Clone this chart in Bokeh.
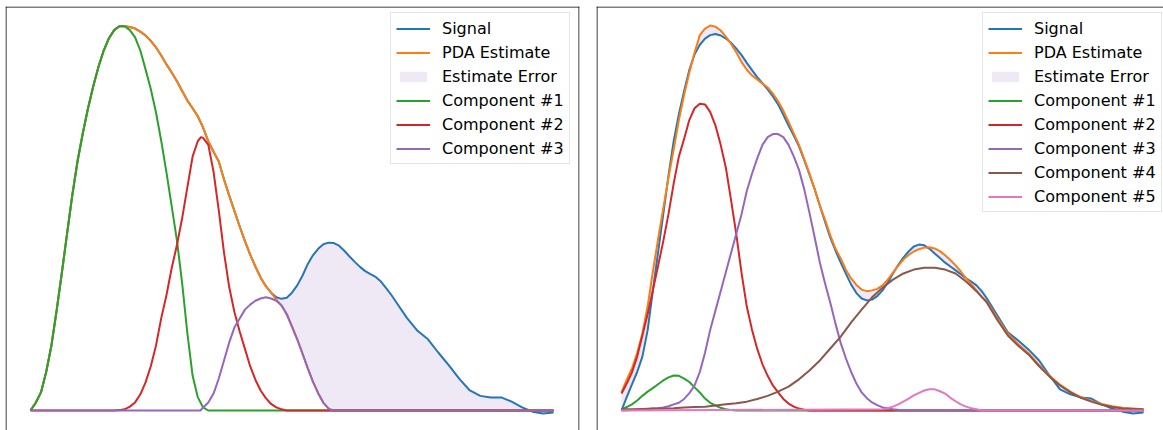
from bokeh.plotting import figure
from bokeh.models import Range1d, Legend, LegendItem, Span
from bokeh.layouts import row
from bokeh.embed import file_html
from bokeh.resources import INLINE

# sample positions (arbitrary time units)
t_fine = [0.0, 0.1, 0.2, 0.3, 0.4, 0.5, 0.6, 0.7, 0.8, 0.9, 1.0, 1.1, 1.2, 1.3, 1.4, 1.5,
          1.6, 1.7, 1.8, 1.9, 2.0, 2.1, 2.2, 2.3, 2.4, 2.5, 2.6, 2.7, 2.8, 2.9, 3.0, 3.1,
          3.2, 3.3, 3.4, 3.5, 3.6, 3.7, 3.8, 3.9, 4.0, 4.1, 4.2, 4.3, 4.4, 4.5, 4.6, 4.7,
          4.8, 4.9, 5.0, 5.1, 5.2, 5.3, 5.4, 5.5, 5.6, 5.7, 5.8, 5.9, 6.0, 6.1, 6.2, 6.3,
          6.4, 6.5, 6.6, 6.7, 6.8, 6.9, 7.0]
t_tail = [7.2, 7.4, 7.6, 7.8, 8.0, 8.2, 8.4, 8.6, 8.8, 9.0, 9.2, 9.4, 9.6, 9.8, 10.0]
t_grid = t_fine + t_tail
t_coarse = [0.0, 0.2, 0.4, 0.6, 0.8, 1.0, 1.2, 1.4, 1.6, 1.8, 2.0, 2.2, 2.4, 2.6, 2.8,
            3.0, 3.2, 3.4, 3.6, 3.8, 4.0, 4.2, 4.4, 4.6, 4.8, 5.0, 5.2, 5.4, 5.6, 5.8,
            6.0, 6.2, 6.4, 6.6, 6.8, 7.0, 7.2, 7.4, 7.6, 7.8, 8.0, 8.2, 8.4, 8.6, 8.8,
            9.0, 9.2, 9.4, 9.6, 9.8, 10.0]

# ---- left panel (3 components) ----
left_common = [0, .02, .047, .10, .169, .26, .358, .46, .56, .648, .72, .785, .842, .893,
               .935, .967, .988, .998, .998, .996, .992, .984, .974, .96, .943, .922, .899,
               .878, .855, .83, .805, .785, .764, .735, .699, .672, .647, .60, .558, .518,
               .478, .44, .405, .374, .345, .323, .306]                      # t 0.0 .. 4.6
left_signal = left_common + [.294, .29, .293, .306, .325, .35, .38, .403, .42, .432, .436,
                             .435, .428, .415, .40, .386, .373, .362, .354, .347, .335,
                             .318, .30, .28,
                             .24, .207, .185, .15, .117, .082, .052, .038, .034, .034,
                             .023, .008, -.003, -.008, -.005]
left_estimate = left_common + [.288, .273, .25, .218, .185, .148, .11, .075, .045, .02,
                               .005, 0] + [0] * 12 + [0] * 15
left_c1_t = t_fine[:35] + [10.0]
left_c1 = [0, .02, .047, .10, .169, .26, .358, .46, .56, .648, .72, .785, .842, .893, .935,
           .967, .988, .998, .998, .988, .969, .935, .886, .835, .774, .70, .618, .53, .442,
           .33, .20, .09, .034, .008, 0, 0]
left_c2_t = [0.0] + t_fine[16:33] + [3.26] + t_fine[33:50] + [10.0]
left_c2 = [0, 0, .001, .003, .010, .021, .042, .073, .115, .169, .24, .30, .37, .43, .50, .58,
           .66, .70, .71, .708, .69, .62, .52, .41, .32, .255, .205, .16, .115, .08, .052,
           .032, .017, .008, .003, 0, 0]
left_c3_t = [0.0, 3.25] + t_fine[33:58] + [5.75, 10.0]
left_c3 = [0, 0, .008, .021, .044, .083, .13, .177, .216, .239, .262, .275, .285, .291, .294,
           .291, .285, .273, .25, .218, .185, .148, .11, .075, .045, .02, .005, 0, 0]

# ---- right panel (5 components) ----
right_signal = [0, .035, .068, .10, .14, .208, .31, .41, .51, .61, .70, .77, .83, .885, .925,
                .95, .966, .975, .978, .974, .966, .955, .94, .923, .903, .884, .866, .85,
                .834, .816, .795, .768, .74, .714, .686, .65, .613, .575, .532, .49, .449,
                .415, .384, .355, .327, .305, .291, .286, .288, .297, .312, .332, .356, .378,
                .397, .413, .426, .431, .429, .42, .408, .396, .384, .374, .364, .354, .343,
                .335, .325, .31, .291,
                .247, .203, .182, .158, .130, .091, .055, .042, .034, .031, .016, .005,
                -.003, -.008, -.005]
right_estimate = [.047, .08, .109, .15, .20, .27, .36, .445, .525, .605, .678, .755, .82,
                  .878, .93, .975, .992, 1.0, .997, .987, .971, .952, .93, .905, .885, .870,
                  .860, .849, .839, .823, .803, .779, .75, .72, .69, .653, .616, .575, .532,
                  .495, .455, .42, .395, .365, .343, .326, .314, .31, .312, .316, .325, .34,
                  .358, .376, .392, .404, .413, .419, .423, .424, .421, .414, .403, .391,
                  .377, .361, .343, .328, .312, .295, .283,
                  .24, .20, .172, .148, .118, .09, .067, .049, .035, .025, .017, .011, .007,
                  .005, .003]
right_c1_t = t_fine[:23] + [10.0]
right_c1 = [.003, .009, .016, .026, .038, .049, .058, .068, .078, .086, .091, .09, .083, .074,
            .060, .047, .031, .02, .013, .007, .003, .001, 0, 0]
right_c2_t = t_fine[:37] + [10.0]
right_c2 = [.044, .07, .099, .14, .195, .25, .312, .375, .44, .51, .59, .66, .706, .755, .785,
            .797, .795, .775, .74, .69, .63, .545, .457, .357, .27, .21, .16, .12, .09, .065,
            .047, .03, .018, .01, .005, .002, 0, 0]
right_c3_t = [0.0] + t_fine[5:51] + [5.2, 5.4, 10.0]
right_c3 = [0, .003, .005, .006, .008, .011, .016, .02, .03, .045, .065, .10, .15, .21, .26,
            .31, .36, .41, .46, .51, .57, .615, .655, .69, .71, .718, .718, .71, .69, .66,
            .625, .575, .514, .45, .384, .33, .28, .225, .175, .135, .10, .07, .047, .032,
            .021, .014, .008, .003, 0, 0]
right_c4 = [.003, .003, .004, .005, .005, .006, .008, .009, .010, .013, .016, .019, .023, .030,
            .038, .049, .062, .081, .104, .130, .161, .192, .229, .262, .294, .319, .340, .356,
            .366, .371, .371, .366, .356, .335, .310, .280, .235, .195, .168, .145, .115, .088,
            .065, .047, .033, .023, .015, .009, .005, .004, .003]
right_c5_t = [0.0] + t_fine[50:70] + [10.0]
right_c5 = [0, .003, .006, .010, .016, .023, .031, .039, .046, .052, .055, .055, .05, .044,
            .033, .024, .016, .01, .006, .003, 0, 0]

C_SIGNAL = "#1f77b4"
C_EST = "#ff7f0e"
C_COMP = ["#2ca02c", "#d62728", "#9467bd", "#8c564b", "#e377c2"]
FRAME = "#000000"
Y0, Y1 = -0.051948, 1.04935


def panel(width, min_left, min_right, xr, xs, signal, estimate, comps, legend_loc, right_edge):
    p = figure(width=width, height=430, output_backend="svg", toolbar_location=None,
               x_range=Range1d(*xr), y_range=Range1d(Y0, Y1),
               x_axis_location=None, y_axis_location=None,
               min_border_left=min_left, min_border_right=min_right,
               min_border_top=6, min_border_bottom=0)
    p.grid.visible = False
    p.outline_line_color = None
    p.background_fill_color = "white"
    p.border_fill_color = "white"
    # frame sides (bottom side lies below the visible window)
    dx = (xr[1] - xr[0]) / (width - min_left - min_right)
    dy = (Y1 - Y0) / 424.0
    p.add_layout(Span(location=xr[0] + 0.5 * dx, dimension="height",
                      line_color=FRAME, line_width=1))
    p.add_layout(Span(location=Y1 - 0.5 * dy, dimension="width",
                      line_color=FRAME, line_width=1))
    if right_edge:
        p.add_layout(Span(location=xr[1] - 0.5 * dx, dimension="height",
                          line_color=FRAME, line_width=1))
    items = []
    r = p.line(xs, signal, color=C_SIGNAL, line_width=2, line_join="round")
    items.append(LegendItem(label="Signal", renderers=[r]))
    r = p.line(xs, estimate, color=C_EST, line_width=2, line_join="round")
    items.append(LegendItem(label="PDA Estimate", renderers=[r]))
    r = p.varea(x=xs, y1=signal, y2=estimate, fill_color="#9467bd", fill_alpha=0.15)
    items.append(LegendItem(label="Estimate Error", renderers=[r]))
    for i, (cx, cy) in enumerate(comps):
        r = p.line(cx, cy, color=C_COMP[i], line_width=2, line_join="round")
        items.append(LegendItem(label="Component #%d" % (i + 1), renderers=[r]))
    leg = Legend(items=items, location=legend_loc)
    leg.label_text_font = "DejaVu Sans"
    leg.label_text_font_size = "16px"
    leg.label_text_color = "#000000"
    leg.glyph_width = 34
    leg.glyph_height = 13
    leg.label_height = 20
    leg.label_standoff = 12
    leg.spacing = 4
    leg.padding = 5
    leg.margin = 0
    leg.border_line_color = "#cccccc"
    leg.border_line_width = 1
    leg.background_fill_color = "white"
    leg.background_fill_alpha = 0.8
    p.add_layout(leg)
    return p


p1 = panel(596, 5, 17, (-0.478, 10.497), t_grid, left_signal, left_estimate,
           [(left_c1_t, left_c1), (left_c2_t, left_c2), (left_c3_t, left_c3)],
           (385, 266), True)
p2 = panel(567, 0, 0, (-0.479, 10.383), t_grid, right_signal, right_estimate,
           [(right_c1_t, right_c1), (right_c2_t, right_c2), (right_c3_t, right_c3),
            (t_coarse, right_c4), (right_c5_t, right_c5)], (386, 218), False)

layout = row(p1, p2, spacing=0)
open("out.html", "w").write(file_html(layout, INLINE))
